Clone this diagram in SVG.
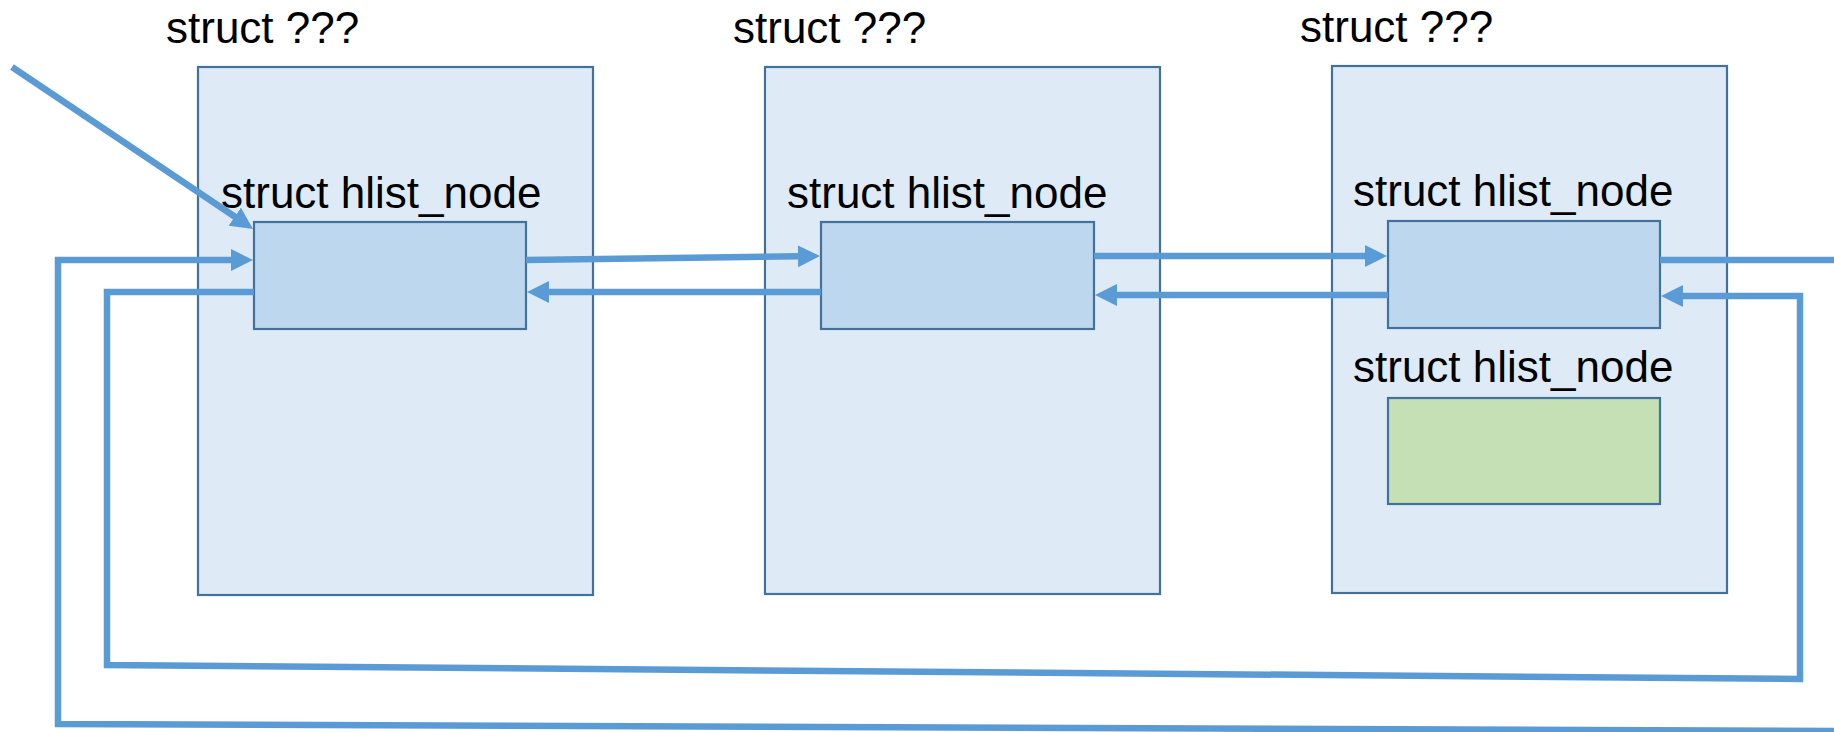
<svg xmlns="http://www.w3.org/2000/svg" width="1834" height="732" viewBox="0 0 1834 732">
  <style>
    .outer { fill: #DEEBF7; stroke: #41719C; stroke-width: 2.2; }
    .inner { fill: #BDD7EE; stroke: #41719C; stroke-width: 2.2; }
    .green { fill: #C5E0B4; stroke: #41719C; stroke-width: 2.2; }
    .lbl { font-family: "Liberation Sans", Arial, sans-serif; font-size: 44px; fill: #000; }
    .link { fill: none; stroke: #5B9BD5; stroke-width: 6.5; stroke-linejoin: miter; }
  </style>
  <defs>
    <marker id="arrow" markerUnits="userSpaceOnUse" markerWidth="24" markerHeight="24" refX="2" refY="11" orient="auto">
      <path d="M0,0 L22,11 L0,22 Z" fill="#5B9BD5"/>
    </marker>
  </defs>

  <!-- first container -->
  <g id="struct1">
    <text class="lbl" x="166" y="43">struct ???</text>
    <rect class="outer" x="198" y="67" width="395" height="528"/>
    <text class="lbl" x="221" y="208">struct hlist_node</text>
    <rect id="node1" class="inner" x="254" y="222" width="272" height="107"/>
  </g>

  <!-- second container -->
  <g id="struct2">
    <text class="lbl" x="733" y="43">struct ???</text>
    <rect class="outer" x="765" y="67" width="395" height="527"/>
    <text class="lbl" x="787" y="208">struct hlist_node</text>
    <rect id="node2" class="inner" x="821" y="222" width="273" height="107"/>
  </g>

  <!-- third container with two hlist_node members -->
  <g id="struct3">
    <text class="lbl" x="1300" y="42">struct ???</text>
    <rect class="outer" x="1332" y="66" width="395" height="527"/>
    <text class="lbl" x="1353" y="206">struct hlist_node</text>
    <rect id="node3" class="inner" x="1388" y="221" width="272" height="107"/>
    <text class="lbl" x="1353" y="382">struct hlist_node</text>
    <rect id="node3b" class="green" x="1388" y="398" width="272" height="106"/>
  </g>

  <!-- pointers between the nodes -->
  <g id="connectors">
    <!-- head pointer -->
    <path class="link" d="M12,67 L236.4,217.8" marker-end="url(#arrow)"/>
    <!-- outer loop back into node1 -->
    <path class="link" d="M1834,731 L58,724 V260 H233" marker-end="url(#arrow)"/>
    <!-- inner loop from node1 back to node3 -->
    <path class="link" d="M254,292 H107 V665 L1800,679 V296 H1681" marker-end="url(#arrow)"/>
    <!-- node1 -> node2 -->
    <path class="link" d="M526,260 L800,256.3" marker-end="url(#arrow)"/>
    <!-- node2 -> node1 -->
    <path class="link" d="M821,292 H547" marker-end="url(#arrow)"/>
    <!-- node2 -> node3 -->
    <path class="link" d="M1094,256 H1367" marker-end="url(#arrow)"/>
    <!-- node3 -> node2 -->
    <path class="link" d="M1388,295 H1115" marker-end="url(#arrow)"/>
    <!-- node3 onward -->
    <path class="link" d="M1660,260 H1834"/>
  </g>
</svg>
